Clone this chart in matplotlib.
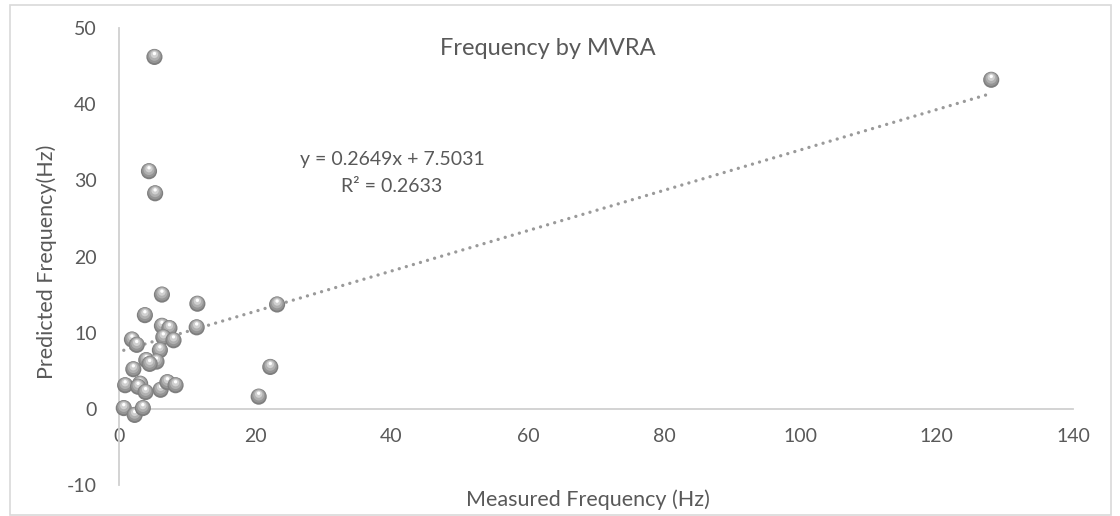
import numpy as np
import matplotlib.pyplot as plt
from matplotlib import transforms
from matplotlib.patches import Rectangle

plt.rcParams['font.family'] = ['Lato', 'DejaVu Sans']
plt.rcParams['axes.unicode_minus'] = False

# measured vs predicted frequency (Hz)
measured = [5.2, 4.4, 5.3, 128.0, 6.3, 11.5, 23.2, 3.8, 6.3, 7.4, 11.4, 1.9, 2.6,
            6.5, 8.0, 6.0, 4.0, 5.5, 4.5, 2.1, 22.2, 0.9, 3.1, 2.8, 3.9, 6.1,
            7.1, 8.3, 20.5, 0.7, 2.3, 3.5]
predicted = [46.2, 31.2, 28.3, 43.2, 15.0, 13.8, 13.7, 12.3, 10.9, 10.6, 10.7, 9.1, 8.4,
             9.4, 9.0, 7.7, 6.4, 6.2, 5.9, 5.2, 5.5, 3.1, 3.3, 2.9, 2.2, 2.5,
             3.5, 3.1, 1.6, 0.1, -0.8, 0.1]
slope, intercept, r2 = 0.2649, 7.5031, 0.2633

x_ticks = [0, 20, 40, 60, 80, 100, 120, 140]
y_ticks = [-10, 0, 10, 20, 30, 40, 50]

txt = '#595959'
axis_col = '#d0d0d0'

fig = plt.figure(figsize=(11.2, 5.16), dpi=100)
ax = fig.add_axes([119 / 1120, 31 / 516, 954 / 1120, 457 / 516])

ax.set_xlim(0, 140)
ax.set_ylim(-10, 50)
ax.set_xticks(x_ticks)
ax.set_yticks(y_ticks)

for s in ['top', 'right']:
    ax.spines[s].set_visible(False)
ax.spines['bottom'].set_position(('data', 0))
ax.spines['bottom'].set_color(axis_col)
ax.spines['left'].set_color(axis_col)
ax.spines['bottom'].set_linewidth(1.3)
ax.spines['left'].set_linewidth(1.3)
ax.tick_params(axis='both', length=0, labelsize=14, labelcolor=txt)
ax.tick_params(axis='x', pad=14)
ax.tick_params(axis='y', pad=16)

# linear trendline from the fitted equation
xs = np.array([min(measured), max(measured)])
ax.plot(xs, slope * xs + intercept, color='#9a9a9a', lw=2.4,
        linestyle=(0, (0.01, 2.2)), dash_capstyle='round', zorder=2)

# shaded "sphere" markers built from stacked circles
layers = [(135, '#7e7e7e', 0.0), (100, '#959595', 0.8), (62, '#b0b0b0', 1.6),
          (28, '#d0d0d0', 2.5), (6, '#ffffff', 3.4)]
for i, (x, y) in enumerate(zip(measured, predicted)):
    for size, col, dy in layers:
        tr = transforms.offset_copy(ax.transData, fig=fig, x=0, y=dy, units='dots')
        ax.scatter([x], [y], s=size, color=col, edgecolors='none',
                   transform=tr, zorder=3 + i * 0.01, clip_on=False)

fig.text(392 / 1120, 1 - 160 / 516, f'y = {slope}x + {intercept}',
         ha='center', va='center', fontsize=14, color=txt)
fig.text(392 / 1120, 1 - 187 / 516, f'R² = {r2}',
         ha='center', va='center', fontsize=14, color=txt)

fig.text(548 / 1120, 1 - 55 / 516, 'Frequency by MVRA',
         ha='center', va='baseline', fontsize=17, color=txt)
fig.text(588 / 1120, 1 - 506 / 516, 'Measured Frequency (Hz)',
         ha='center', va='baseline', fontsize=15.5, color=txt)
fig.text(53 / 1120, 1 - 262 / 516, 'Predicted Frequency(Hz)',
         ha='center', va='baseline', fontsize=15.5, color=txt,
         rotation=90, rotation_mode='anchor')

fig.patches.append(Rectangle((10 / 1120, 1 / 516), 1101 / 1120, 510 / 516,
                             transform=fig.transFigure, fill=False,
                             edgecolor='#d9d9d9', lw=1.2))

fig.savefig('out.png', dpi=100)
